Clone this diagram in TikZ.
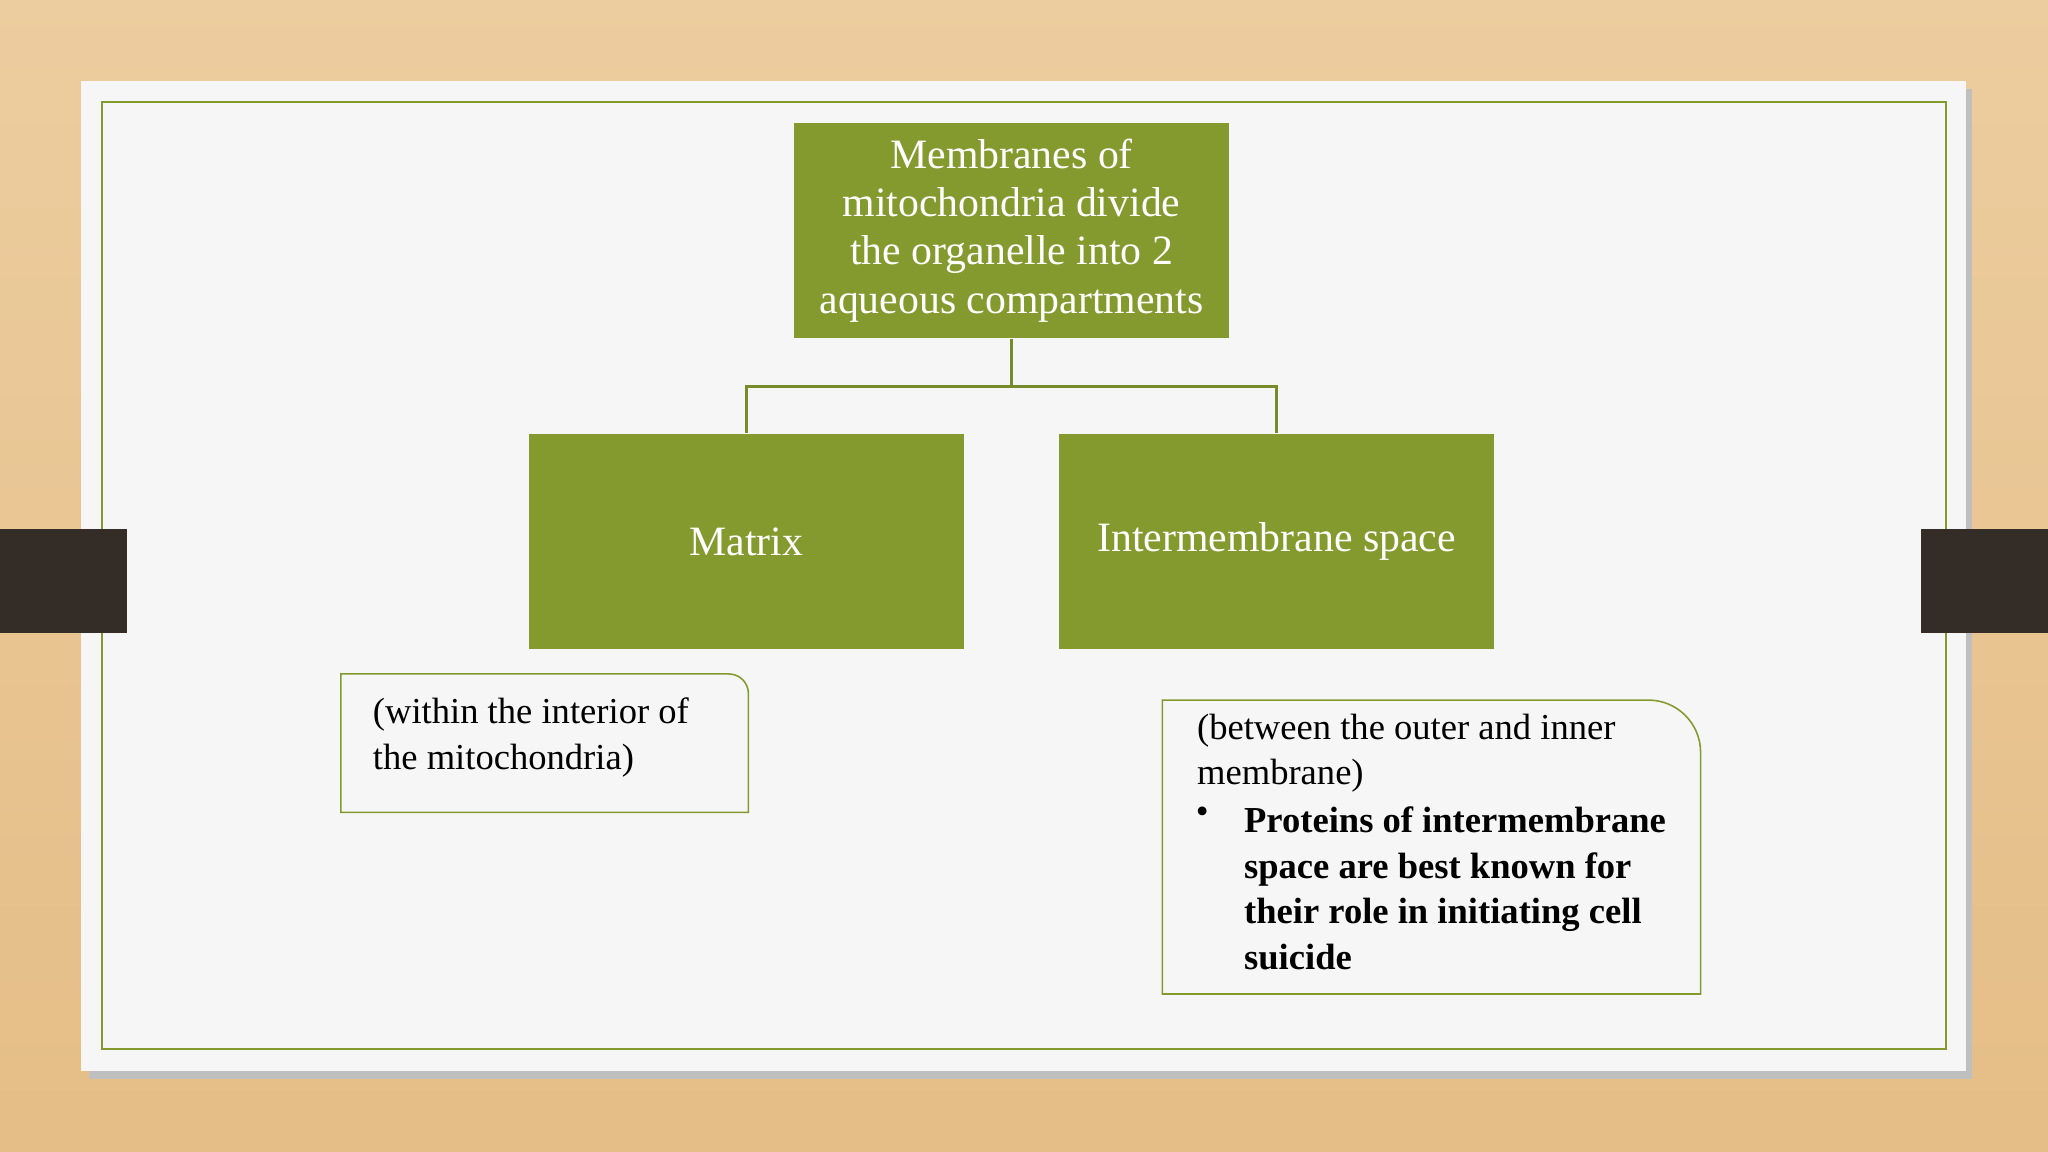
\documentclass[tikz,border=0pt]{standalone}
\usepackage{fontspec}
\setmainfont{Liberation Serif}
\definecolor{olive}{HTML}{849A2F}
\definecolor{wood}{HTML}{E9C48E}
\definecolor{card}{HTML}{F6F6F6}
\definecolor{tab}{HTML}{332C27}
\tikzset{
  gbox/.style={fill=olive,draw=none,text=white,align=center,font=\fontsize{32}{37}\selectfont},
  note/.style={draw=olive,line width=1.2pt,fill=card},
  conn/.style={draw=olive!90!black,line width=2pt}
}
\begin{document}
\begin{tikzpicture}[x=1pt,y=-1pt]
\useasboundingbox (0,0) rectangle (1568,882);
\shade[top color=wood!85!white,bottom color=wood!90!brown] (0,0) rectangle (1568,882);
\fill[black!25] (68,68) rectangle (1510,826);
\fill[card] (62,62) rectangle (1505,820);
\draw[olive,line width=2pt] (78,78) rectangle (1490,803);
\fill[tab] (0,405) rectangle (97,485);
\fill[tab] (1471,405) rectangle (1568,485);
\node[gbox,minimum width=333pt,minimum height=165pt] (top) at (774.5,176.5) {Membranes of\\mitochondria divide\\the organelle into 2\\aqueous compartments};
\node[gbox,minimum width=333pt,minimum height=165pt] (mat) at (571.5,414.5) {Matrix};
\node[gbox,minimum width=333pt,minimum height=165pt] (ims) at (977.5,414.5) {Intermembrane space};
\coordinate (j) at (774.5,296);
\draw[conn] (top.south) -- (j) -| (mat.north);
\draw[conn] (j) -| (ims.north);
\draw[note] (261,516) -- (558,516) arc[start angle=-90,end angle=0,radius=15] -- (573,622) -- (261,622) -- cycle;
\node[anchor=north west,align=left,font=\fontsize{28}{35}\selectfont] (n1) at (282,531) {(within the interior of\\the mitochondria)};
\draw[note] (890,536) -- (1262,536) arc[start angle=-90,end angle=0,radius=40] -- (1302,761) -- (890,761) -- cycle;
\node[anchor=north west,align=left,font=\fontsize{28}{35}\selectfont] (n2) at (913,543) {(between the outer and inner\\membrane)};
\node[anchor=north west] (b) at (912,614) {\fontsize{28}{35}\selectfont •};
\node[anchor=north west,align=left,font=\fontsize{28}{35}\selectfont\bfseries] (n3) at (949,614) {Proteins of intermembrane\\space are best known for\\their role in initiating cell\\suicide};
\end{tikzpicture}
\end{document}
